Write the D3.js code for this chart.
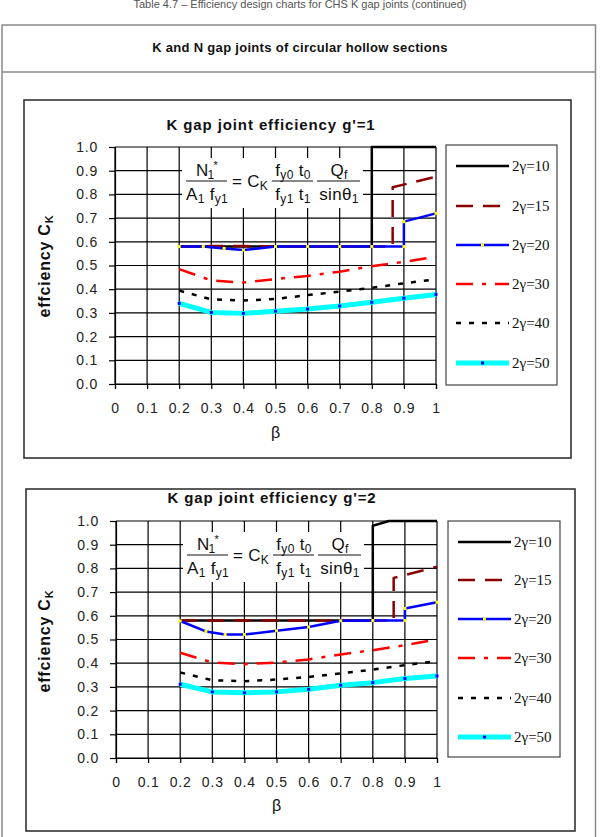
<!DOCTYPE html>
<html><head><meta charset="utf-8">
<script src="https://cdn.jsdelivr.net/npm/d3@7/dist/d3.min.js"></script>
<style>body{margin:0;background:#fff}svg{display:block}</style>
</head><body>
<svg id="c" width="600" height="837"></svg>
<script>
// ---------- data ----------
const xTicks = [0,0.1,0.2,0.3,0.4,0.5,0.6,0.7,0.8,0.9,1];
const xTickLabels = ["0","0.1","0.2","0.3","0.4","0.5","0.6","0.7","0.8","0.9","1"];
const yTicks = [0,0.1,0.2,0.3,0.4,0.5,0.6,0.7,0.8,0.9,1.0];
const seriesNames = ["2γ=10","2γ=15","2γ=20","2γ=30","2γ=40","2γ=50"];

// chart 1 : g'=1   [beta, C_K]
const g1_gamma10 = [[0.2,0.58],[0.8,0.58],[0.8,1.0],[1.0,1.0]];
const g1_gamma15 = [[0.2,0.58],[0.3,0.582],[0.4,0.582],[0.5,0.58],[0.865,0.58],[0.865,0.83],[1.0,0.875]];
const g1_gamma20 = [[0.2,0.58],[0.275,0.58],[0.34,0.572],[0.4,0.565],[0.5,0.58],[0.6,0.58],[0.7,0.58],[0.8,0.58],[0.9,0.58],[0.9,0.685],[1.0,0.72]];
const g1_gamma30 = [[0.2,0.485],[0.3,0.437],[0.4,0.428],[0.5,0.443],[0.6,0.456],[0.7,0.474],[0.8,0.497],[0.9,0.515],[1.0,0.537]];
const g1_gamma40 = [[0.2,0.394],[0.3,0.357],[0.4,0.352],[0.5,0.359],[0.6,0.375],[0.7,0.39],[0.8,0.406],[0.9,0.425],[1.0,0.442]];
const g1_gamma50 = [[0.2,0.34],[0.3,0.302],[0.4,0.298],[0.5,0.307],[0.6,0.316],[0.7,0.329],[0.8,0.345],[0.9,0.362],[1.0,0.378]];

// chart 2 : g'=2
const g2_gamma10 = [[0.2,0.58],[0.8,0.58],[0.8,0.98],[0.85,1.0],[1.0,1.0]];
const g2_gamma15 = [[0.2,0.58],[0.865,0.58],[0.865,0.76],[1.0,0.807]];
const g2_gamma20 = [[0.2,0.578],[0.28,0.534],[0.34,0.521],[0.4,0.521],[0.5,0.537],[0.6,0.553],[0.7,0.579],[0.8,0.58],[0.9,0.58],[0.9,0.631],[1.0,0.657]];
const g2_gamma30 = [[0.2,0.444],[0.3,0.403],[0.4,0.396],[0.5,0.403],[0.6,0.416],[0.7,0.437],[0.8,0.455],[0.9,0.476],[1.0,0.5]];
const g2_gamma40 = [[0.2,0.361],[0.3,0.328],[0.4,0.324],[0.5,0.331],[0.6,0.342],[0.7,0.357],[0.8,0.373],[0.9,0.392],[1.0,0.409]];
const g2_gamma50 = [[0.2,0.311],[0.3,0.279],[0.4,0.275],[0.5,0.279],[0.6,0.29],[0.7,0.307],[0.8,0.318],[0.9,0.335],[1.0,0.346]];

const titles = ["K gap joint efficiency g'=1","K gap joint efficiency g'=2"];

// ---------- styles ----------
const styles = [
  {color:"#000000", width:2.5, dash:null, marker:null},
  {color:"#8B0000", width:2.5, dash:"17,10", marker:null},
  {color:"#0000FF", width:2.5, dash:null, marker:"#FFFF00"},
  {color:"#FF0000", width:2.5, dash:"17,9,4,9", marker:null},
  {color:"#000000", width:2.5, dash:"5,8", marker:null},
  {color:"#00FFFF", width:5, dash:null, marker:"#0000FF"}
];
const SANS = "'Liberation Sans', Arial, sans-serif";
const SERIF = "'Liberation Serif', 'Times New Roman', serif";

const svg = d3.select("#c");

// page caption & table
svg.append("text").attr("x",300).attr("y",8).attr("text-anchor","middle")
  .attr("font-family",SANS).attr("font-size",11).attr("fill","#555")
  .text("Table 4.7 – Efficiency design charts for CHS K gap joints (continued)");
svg.append("rect").attr("x",2).attr("y",25).attr("width",593.5).attr("height",830)
  .attr("fill","none").attr("stroke","#8a8a8a").attr("stroke-width",1.5);
svg.append("line").attr("x1",2).attr("x2",595.5).attr("y1",72).attr("y2",72)
  .attr("stroke","#8a8a8a").attr("stroke-width",1.5);
svg.append("text").attr("x",300).attr("y",52).attr("text-anchor","middle")
  .attr("font-family",SANS).attr("font-size",13).attr("font-weight","bold").attr("fill","#111")
  .attr("letter-spacing",0.3)
  .text("K and N gap joints of circular hollow sections");

function drawChart(cfg){
  const g = svg.append("g");
  g.append("rect").attr("x",cfg.frame[0]).attr("y",cfg.frame[1])
    .attr("width",cfg.frame[2]-cfg.frame[0]).attr("height",cfg.frame[3]-cfg.frame[1])
    .attr("fill","#fff").attr("stroke","#333").attr("stroke-width",1.6);
  const [L,T,R,B] = cfg.plot;
  const x = d3.scaleLinear().domain([0,1]).range([L,R]);
  const y = d3.scaleLinear().domain([0,1]).range([B,T]);

  g.append("text").attr("x",cfg.titleX).attr("y",cfg.titleY).attr("text-anchor","middle")
    .attr("font-family",SANS).attr("font-size",15).attr("font-weight","bold").attr("fill","#111")
    .attr("letter-spacing",0.9).text(cfg.title);

  // grid
  const grid = g.append("g").attr("stroke","#000").attr("stroke-width",1.2);
  grid.selectAll(".v").data(xTicks).join("line")
    .attr("x1",d=>x(d)).attr("x2",d=>x(d)).attr("y1",T).attr("y2",B);
  grid.selectAll(".h").data(yTicks).join("line")
    .attr("x1",L).attr("x2",R).attr("y1",d=>y(d)).attr("y2",d=>y(d));

  // axes
  const ax = g.append("g").attr("transform",`translate(${L},0)`)
    .call(d3.axisLeft(y).tickValues(yTicks).tickFormat(d3.format(".1f")).tickSize(6).tickPadding(11));
  const bx = g.append("g").attr("transform",`translate(0,${B})`)
    .call(d3.axisBottom(x).tickValues(xTicks).tickFormat((d,i)=>xTickLabels[i]).tickSize(5).tickPadding(14));
  [ax,bx].forEach(a=>{
    a.selectAll("path").attr("stroke","#000").attr("stroke-width",1.2);
    a.selectAll("line").attr("stroke","#000").attr("stroke-width",1.2);
    a.selectAll("text").attr("font-family",SANS).attr("font-size",14).attr("fill","#222")
      .attr("letter-spacing",0.8);
  });

  // axis titles
  g.append("text").attr("x",(L+R)/2).attr("y",cfg.betaY).attr("text-anchor","middle")
    .attr("font-family",SANS).attr("font-size",16).attr("fill","#111").text("β");
  const yl = g.append("text").attr("transform",`translate(50,${cfg.ylabY}) rotate(-90)`)
    .attr("text-anchor","middle").attr("font-family",SANS).attr("font-size",16)
    .attr("font-weight","bold").attr("fill","#111").attr("letter-spacing",0.8);
  yl.append("tspan").text("effciency C");
  yl.append("tspan").attr("font-size",11).attr("dy",3).text("K");

  // formula
  const fx = L + 67, fy = T + 34;
  g.append("rect").attr("x",fx).attr("y",T+11).attr("width",181).attr("height",50).attr("fill","#fff");
  const ft = (xx,yy)=>g.append("text").attr("x",xx).attr("y",yy).attr("text-anchor","middle")
    .attr("font-family",SANS).attr("font-size",17).attr("fill","#111").attr("letter-spacing",0.3);
  const SUB = 12;
  const bar = (x1,x2)=>g.append("line").attr("x1",x1).attr("x2",x2).attr("y1",fy).attr("y2",fy)
    .attr("stroke","#111").attr("stroke-width",1);
  // N1* / A1 fy1
  bar(fx+4,fx+45);
  let t = ft(fx+25,fy-5); t.append("tspan").text("N");
  t.append("tspan").attr("font-size",SUB).attr("dy",3).attr("dx",-1).text("1");
  t.append("tspan").attr("font-size",11).attr("dy",-10).attr("dx",-1).text("*");
  t = ft(fx+25,fy+19); t.append("tspan").text("A");
  t.append("tspan").attr("font-size",SUB).attr("dy",3).text("1");
  t.append("tspan").attr("dy",-3).text(" f");
  t.append("tspan").attr("font-size",SUB).attr("dy",3).text("y1");
  // = C_K
  t = ft(fx+68,fy+6); t.append("tspan").text("= C");
  t.append("tspan").attr("font-size",SUB).attr("dy",3).text("K");
  // fy0 t0 / fy1 t1
  bar(fx+90,fx+131);
  t = ft(fx+111,fy-5); t.append("tspan").text("f");
  t.append("tspan").attr("font-size",SUB).attr("dy",3).text("y0");
  t.append("tspan").attr("dy",-3).text(" t");
  t.append("tspan").attr("font-size",SUB).attr("dy",3).text("0");
  t = ft(fx+111,fy+19); t.append("tspan").text("f");
  t.append("tspan").attr("font-size",SUB).attr("dy",3).text("y1");
  t.append("tspan").attr("dy",-3).text(" t");
  t.append("tspan").attr("font-size",SUB).attr("dy",3).text("1");
  // Qf / sin θ1
  bar(fx+135,fx+178);
  t = ft(fx+157,fy-5); t.append("tspan").text("Q");
  t.append("tspan").attr("font-size",SUB).attr("dy",3).text("f");
  t = ft(fx+157,fy+19); t.append("tspan").text("sinθ");
  t.append("tspan").attr("font-size",SUB).attr("dy",3).text("1");

  // series
  const line = d3.line().x(d=>x(d[0])).y(d=>y(d[1]));
  cfg.series.forEach((data,i)=>{
    const s = styles[i];
    g.append("path").datum(data).attr("d",line).attr("fill","none")
      .attr("stroke",s.color).attr("stroke-width",s.width)
      .attr("stroke-dasharray",s.dash).attr("stroke-linejoin","round");
    if(s.marker){
      g.selectAll(null).data(data).join("rect")
        .attr("x",d=>x(d[0])-1.5).attr("y",d=>y(d[1])-1.5).attr("width",3).attr("height",3)
        .attr("fill",s.marker);
    }
  });

  // legend
  const lb = cfg.legendBox;
  g.append("rect").attr("x",lb[0]).attr("y",lb[1]).attr("width",lb[2]-lb[0]).attr("height",lb[3]-lb[1])
    .attr("fill","#fff").attr("stroke","#444").attr("stroke-width",1.2);
  seriesNames.forEach((name,i)=>{
    const s = styles[i], yy = cfg.legendYs[i];
    const x1 = lb[0]+10, x2 = lb[0]+63;
    g.append("line").attr("x1",x1).attr("x2",x2).attr("y1",yy).attr("y2",yy)
      .attr("stroke",s.color).attr("stroke-width",s.width).attr("stroke-dasharray",s.dash);
    if(s.marker) g.append("rect").attr("x",(x1+x2)/2-1.5).attr("y",yy-1.5).attr("width",3).attr("height",3).attr("fill",s.marker);
    g.append("text").attr("x",x2+3).attr("y",yy+5).attr("font-family",SERIF).attr("font-size",15)
      .attr("fill","#111").text(name);
  });
}

drawChart({
  frame:[24,100,571,458], plot:[115,147,436,384], title:titles[0], titleX:271, titleY:130,
  betaY:438, ylabY:266,
  series:[g1_gamma10,g1_gamma15,g1_gamma20,g1_gamma30,g1_gamma40,g1_gamma50],
  legendBox:[446,145,557,385], legendYs:[166,206,245,284,323,363]
});
drawChart({
  frame:[26,489,575,831], plot:[116,521,437,758], title:titles[1], titleX:272, titleY:503,
  betaY:811, ylabY:641,
  series:[g2_gamma10,g2_gamma15,g2_gamma20,g2_gamma30,g2_gamma40,g2_gamma50],
  legendBox:[448,521,560,757], legendYs:[542,580,619,658,698,737]
});
</script>
</body></html>
